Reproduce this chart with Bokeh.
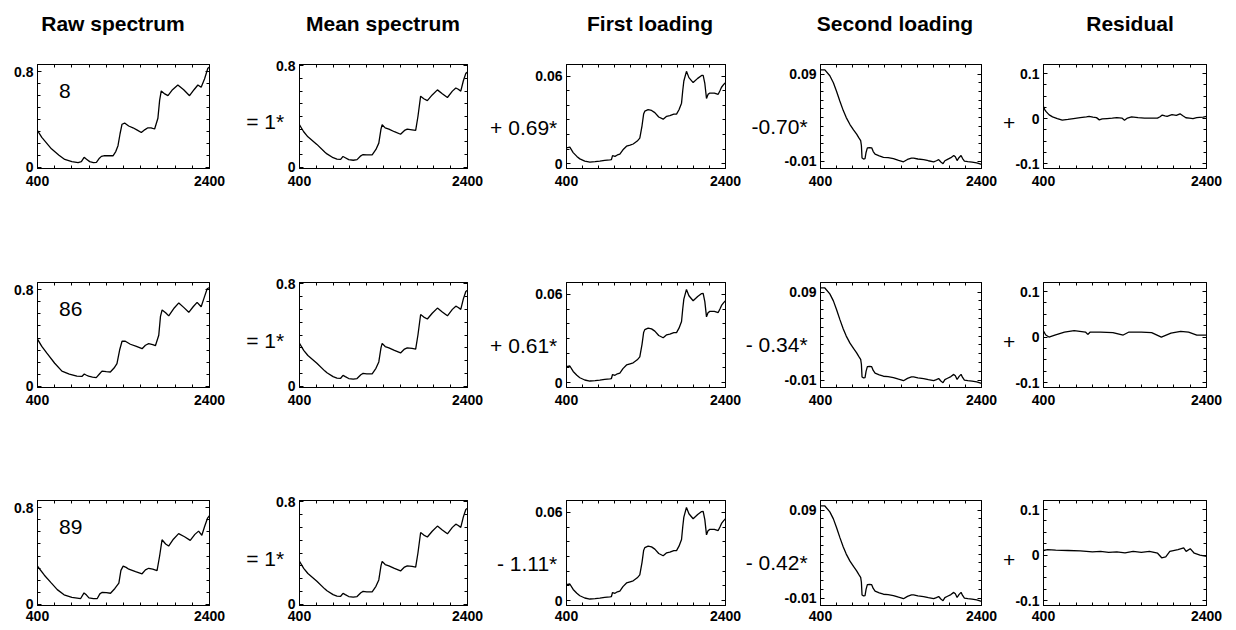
from bokeh.plotting import figure
from bokeh.layouts import column, row
from bokeh.models import Div, Label, LinearAxis, FixedTicker, Range1d
from bokeh.embed import file_html
from bokeh.resources import INLINE

FONT = "Liberation Sans"

# ---------------- data ----------------
titles = ["Raw spectrum", "Mean spectrum", "First loading", "Second loading", "Residual"]
sample_ids = ["8", "86", "89"]
coef_mean = ["=  1*", "=  1*", "=  1*"]
coef_first = ["+ 0.69*", "+ 0.61*", "- 1.11*"]
coef_second = ["-0.70*", "- 0.34*", "- 0.42*"]
coef_res = ["+", "+", "+"]

raw8_x = [400, 450, 562, 650, 717, 800, 872, 910, 942, 970, 1007, 1050, 1085, 1120, 1143, 1181, 1278, 1310, 1336, 1360, 1383, 1413, 1460, 1510, 1560, 1607, 1650, 1684, 1720, 1762, 1800, 1820, 1839, 1880, 1917, 1970, 2032, 2100, 2168, 2220, 2265, 2303, 2342, 2381, 2400]
raw8_y = [0.307, 0.25, 0.153, 0.10, 0.064, 0.045, 0.038, 0.045, 0.082, 0.065, 0.046, 0.038, 0.04, 0.075, 0.09, 0.097, 0.095, 0.13, 0.18, 0.28, 0.36, 0.37, 0.345, 0.33, 0.31, 0.29, 0.315, 0.33, 0.33, 0.32, 0.41, 0.56, 0.64, 0.615, 0.60, 0.65, 0.69, 0.65, 0.60, 0.65, 0.69, 0.67, 0.74, 0.83, 0.84]

raw86_x = [400, 450, 509, 600, 684, 770, 858, 916, 944, 970, 994, 1040, 1083, 1120, 1150, 1200, 1247, 1290, 1324, 1355, 1383, 1421, 1480, 1550, 1616, 1655, 1693, 1740, 1771, 1810, 1830, 1849, 1890, 1926, 1990, 2043, 2100, 2159, 2210, 2256, 2303, 2340, 2373, 2400]
raw86_y = [0.39, 0.33, 0.274, 0.19, 0.124, 0.10, 0.082, 0.08, 0.10, 0.09, 0.082, 0.075, 0.07, 0.10, 0.124, 0.12, 0.117, 0.15, 0.187, 0.30, 0.373, 0.373, 0.348, 0.33, 0.311, 0.34, 0.353, 0.345, 0.336, 0.423, 0.58, 0.634, 0.61, 0.584, 0.65, 0.692, 0.655, 0.614, 0.66, 0.697, 0.66, 0.74, 0.81, 0.82]

raw89_x = [400, 480, 554, 630, 709, 800, 902, 941, 970, 998, 1050, 1095, 1125, 1153, 1200, 1249, 1300, 1346, 1370, 1396, 1430, 1462, 1540, 1616, 1655, 1693, 1740, 1790, 1820, 1848, 1890, 1925, 1980, 2041, 2110, 2176, 2230, 2273, 2311, 2345, 2377, 2400]
raw89_y = [0.315, 0.24, 0.18, 0.12, 0.077, 0.055, 0.046, 0.093, 0.075, 0.051, 0.045, 0.046, 0.085, 0.098, 0.095, 0.09, 0.13, 0.175, 0.28, 0.316, 0.305, 0.29, 0.27, 0.252, 0.285, 0.298, 0.29, 0.278, 0.40, 0.535, 0.50, 0.483, 0.54, 0.586, 0.56, 0.53, 0.58, 0.607, 0.573, 0.65, 0.715, 0.735]

mean_x = [400, 450, 500, 607, 700, 727, 800, 846, 890, 918, 945, 986, 1040, 1085, 1130, 1157, 1200, 1265, 1310, 1344, 1370, 1384, 1420, 1464, 1530, 1603, 1650, 1683, 1740, 1783, 1810, 1842, 1880, 1922, 1980, 2042, 2100, 2161, 2220, 2261, 2290, 2320, 2350, 2380, 2400]
mean_y = [0.335, 0.28, 0.24, 0.18, 0.12, 0.105, 0.075, 0.064, 0.062, 0.085, 0.075, 0.06, 0.055, 0.06, 0.09, 0.10, 0.097, 0.097, 0.14, 0.19, 0.30, 0.335, 0.31, 0.30, 0.28, 0.26, 0.29, 0.30, 0.295, 0.29, 0.40, 0.56, 0.54, 0.525, 0.57, 0.61, 0.58, 0.55, 0.60, 0.625, 0.615, 0.60, 0.68, 0.74, 0.75]

load1_x = [400, 442, 484, 530, 568, 630, 694, 760, 819, 880, 945, 965, 979, 1010, 1040, 1071, 1110, 1155, 1200, 1239, 1290, 1322, 1350, 1370, 1385, 1427, 1470, 1511, 1560, 1616, 1660, 1700, 1750, 1784, 1815, 1847, 1862, 1876, 1909, 1940, 1993, 2050, 2100, 2119, 2140, 2161, 2180, 2203, 2260, 2308, 2330, 2350, 2380, 2400]
load1_y = [0.0109, 0.0113, 0.0076, 0.005, 0.0033, 0.0018, 0.0011, 0.0014, 0.0017, 0.0022, 0.0026, 0.0028, 0.0055, 0.005, 0.006, 0.0065, 0.0095, 0.012, 0.0128, 0.0135, 0.0155, 0.0175, 0.026, 0.034, 0.036, 0.037, 0.0365, 0.035, 0.032, 0.0305, 0.0325, 0.033, 0.034, 0.034, 0.037, 0.0415, 0.05, 0.0567, 0.0633, 0.059, 0.0556, 0.0585, 0.0605, 0.0606, 0.055, 0.0447, 0.0475, 0.0484, 0.0484, 0.0476, 0.05, 0.0524, 0.0545, 0.0556]

load2_x = [400, 454, 516, 560, 600, 640, 683, 720, 766, 810, 849, 875, 899, 908, 916, 935, 953, 966, 982, 1010, 1036, 1055, 1078, 1130, 1182, 1240, 1306, 1370, 1431, 1480, 1530, 1556, 1610, 1681, 1740, 1806, 1840, 1868, 1895, 1922, 1945, 1972, 2020, 2055, 2075, 2097, 2120, 2146, 2165, 2188, 2230, 2283, 2340, 2400]
load2_y = [0.0947, 0.0947, 0.088, 0.080, 0.070, 0.059, 0.048, 0.040, 0.032, 0.026, 0.021, 0.017, 0.0136, 0.008, -0.0064, -0.0075, -0.0071, 0.0, 0.0053, 0.0055, 0.0053, 0.001, -0.002, -0.004, -0.0056, -0.006, -0.0071, -0.009, -0.0107, -0.008, -0.0064, -0.0064, -0.0075, -0.0082, -0.0095, -0.0107, -0.0095, -0.0082, -0.011, -0.0129, -0.0095, -0.0082, -0.006, -0.0035, -0.005, -0.0093, -0.006, -0.0035, -0.007, -0.01, -0.0105, -0.0111, -0.012, -0.0136]

res8_x = [400, 415, 432, 470, 511, 570, 630, 700, 768, 850, 927, 960, 1006, 1050, 1085, 1120, 1180, 1244, 1300, 1362, 1394, 1430, 1481, 1560, 1640, 1720, 1798, 1830, 1857, 1890, 1917, 1950, 1976, 2030, 2075, 2110, 2147, 2190, 2234, 2280, 2313, 2360, 2400]
res8_y = [0.0268, 0.020, 0.0153, 0.008, 0.0037, 0.0, -0.0037, -0.002, 0.0, 0.002, 0.0037, 0.005, 0.003, 0.002, -0.003, -0.001, 0.0, 0.001, 0.002, 0.001, -0.0037, 0.001, 0.0037, 0.002, 0.001, 0.001, 0.001, 0.004, 0.0078, 0.006, 0.005, 0.007, 0.0085, 0.007, 0.0105, 0.006, 0.0017, 0.001, 0.0, 0.002, 0.0024, 0.003, 0.005]

res86_x = [400, 428, 467, 539, 657, 776, 915, 943, 974, 1100, 1251, 1378, 1449, 1600, 1727, 1846, 1964, 2083, 2180, 2281, 2400]
res86_y = [0.013, 0.0044, 0.0, 0.0044, 0.011, 0.014, 0.011, 0.0058, 0.011, 0.011, 0.0098, 0.0044, 0.011, 0.011, 0.0098, 0.0, 0.0085, 0.0125, 0.011, 0.0044, 0.0044]

res89_x = [400, 450, 550, 700, 850, 1000, 1100, 1200, 1300, 1400, 1500, 1600, 1700, 1800, 1850, 1900, 1950, 2050, 2120, 2150, 2200, 2250, 2320, 2400]
res89_y = [0.010, 0.012, 0.011, 0.010, 0.009, 0.007, 0.008, 0.006, 0.007, 0.005, 0.008, 0.006, 0.008, 0.004, -0.006, -0.004, 0.008, 0.012, 0.016, 0.008, 0.014, 0.004, 0.0, -0.003]

x_major = [400, 2400]
x_minor = [600, 800, 1000, 1200, 1400, 1600, 1800, 2000, 2200]

# ---------------- layout geometry ----------------
col_w = [236, 247, 258, 259, 236]
col_bl = [37, 63, 83, 79, 42]
col_fw = [172, 168, 159, 161, 164]
row_top = [45, 262, 479]
row_h = [217, 217, 151]
frame_top = [[64, 64, 59, 58, 61], [282, 282, 277, 277, 278], [500, 498, 493, 493, 496]]
frame_bot = [[178, 177, 168, 168, 174], [398, 395, 388, 387, 392], [609, 608, 606, 605, 607]]
# standoff of the operator text (negative: it sits over the tick-label band)
op_standoff = [0, -17, -25, -26, -3]
# line height of the two-line operator label (empty first line pushes the text down)
op_line_height = [1.0, 0.45, 0.95, 0.85, 0.55]

yspec = [
    dict(r=(-0.012, 0.862), major=[0, 0.8], minor=[0.1, 0.2, 0.3, 0.4, 0.5, 0.6, 0.7], lab={0: "0", 0.8: "0.8"}),
    dict(r=(-0.01, 0.81), major=[0, 0.8], minor=[0.1, 0.2, 0.3, 0.4, 0.5, 0.6, 0.7], lab={0: "0", 0.8: "0.8"}),
    dict(r=(-0.0033, 0.068), major=[0, 0.06], minor=[0.01, 0.02, 0.03, 0.04, 0.05], lab={0: "0", 0.06: "0.06"}),
    dict(r=(-0.0184, 0.1009), major=[-0.01, 0.09], minor=[0, 0.01, 0.02, 0.03, 0.04, 0.05, 0.06, 0.07, 0.08], lab={-0.01: "-0.01", 0.09: "0.09"}),
    dict(r=(-0.111, 0.12), major=[-0.1, 0, 0.1], minor=[-0.075, -0.05, -0.025, 0.025, 0.05, 0.075], lab={-0.1: "-0.1", 0: "0", 0.1: "0.1"}),
]


def add_axis(p, place, major, minor, labels, show, standoff=7, op=None, op_so=0, op_lh=1.0):
    ax = LinearAxis(ticker=FixedTicker(ticks=major, minor_ticks=minor))
    ax.axis_line_color = "black"
    ax.axis_line_width = 1
    ax.major_tick_in = 4
    ax.major_tick_out = 0
    ax.minor_tick_in = 3
    ax.minor_tick_out = 0
    ax.major_tick_line_color = "black"
    ax.minor_tick_line_color = "black"
    if show:
        ax.major_label_overrides = labels
        ax.major_label_text_font = FONT
        ax.major_label_text_font_size = "14px"
        ax.major_label_text_font_style = "bold"
        ax.major_label_text_color = "black"
        ax.major_label_standoff = standoff
    else:
        ax.major_label_text_font_size = "1px"
        ax.major_label_text_color = None
        ax.major_label_standoff = 0
    if op:
        ax.axis_label = "\n" + op
        ax.axis_label_orientation = "horizontal"
        ax.axis_label_standoff = op_so
        ax.axis_label_text_font = FONT
        ax.axis_label_text_font_size = "21px"
        ax.axis_label_text_font_style = "normal"
        ax.axis_label_text_color = "black"
        ax.axis_label_text_line_height = op_lh
    p.add_layout(ax, place)


def make_panel(ri, ci, xs, ys, op=None):
    W = col_w[ci]
    H = row_h[ri]
    bl = col_bl[ci]
    br = W - bl - col_fw[ci]
    bt = frame_top[ri][ci] - row_top[ri]
    bb = row_top[ri] + H - frame_bot[ri][ci]
    spec = yspec[ci]
    y0, y1 = spec["r"]
    p = figure(width=W, height=H, title=None,
               x_range=Range1d(400, 2400), y_range=Range1d(y0, y1),
               x_axis_type=None, y_axis_type=None,
               output_backend="svg", toolbar_location=None,
               min_border_left=bl, min_border_right=br,
               min_border_top=bt, min_border_bottom=bb)
    p.outline_line_color = "black"
    p.outline_line_width = 1
    p.background_fill_color = "white"
    p.border_fill_color = "white"
    stand = 5 if ri == 2 else 7
    add_axis(p, "below", x_major, x_minor, {400: "400", 2400: "2400"}, True, stand)
    add_axis(p, "above", x_major, x_minor, {}, False)
    add_axis(p, "left", spec["major"], spec["minor"], spec["lab"], True, 4,
             op=op, op_so=op_standoff[ci], op_lh=op_line_height[ci])
    add_axis(p, "right", spec["major"], spec["minor"], {}, False)
    p.line(xs, ys, line_color="black", line_width=1.3)
    return p


rows = []
raw_data = [(raw8_x, raw8_y), (raw86_x, raw86_y), (raw89_x, raw89_y)]
res_data = [(res8_x, res8_y), (res86_x, res86_y), (res89_x, res89_y)]
for ri in range(3):
    p1 = make_panel(ri, 0, raw_data[ri][0], raw_data[ri][1])
    p1.add_layout(Label(x=650, y=0.64, text=sample_ids[ri], text_align="left",
                        text_baseline="middle", text_font=FONT,
                        text_font_size="21px", text_color="black"))
    p2 = make_panel(ri, 1, mean_x, mean_y, coef_mean[ri])
    p3 = make_panel(ri, 2, load1_x, load1_y, coef_first[ri])
    p4 = make_panel(ri, 3, load2_x, load2_y, coef_second[ri])
    p5 = make_panel(ri, 4, res_data[ri][0], res_data[ri][1], coef_res[ri])
    rows.append(row(p1, p2, p3, p4, p5, spacing=0))

title_centers = [113, 383, 650, 895, 1130]
spans = "".join(
    f'<span style="position:absolute;left:{c}px;top:9px;transform:translateX(-50%);white-space:nowrap;">{t}</span>'
    for t, c in zip(titles, title_centers))
title_div = Div(text=f'<div style="position:relative;width:1236px;height:45px;font-family:\'{FONT}\';'
                     f'font-weight:bold;font-size:21px;color:black;">{spans}</div>',
                width=1236, height=45, margin=(0, 0, 0, 0))

layout = column(title_div, *rows, spacing=0)
open("out.html", "w").write(file_html(layout, INLINE))
